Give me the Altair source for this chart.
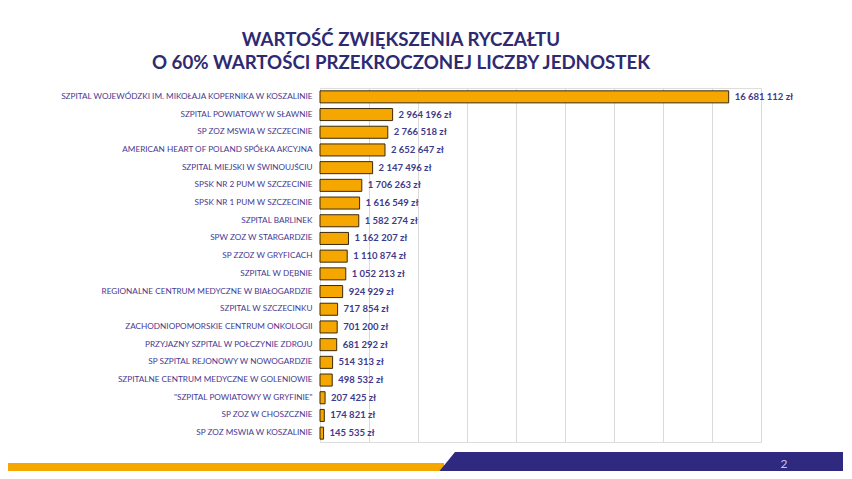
import altair as alt
import pandas as pd

categories = [
    "SZPITAL WOJEWÓDZKI IM. MIKOŁAJA KOPERNIKA W KOSZALINIE",
    "SZPITAL POWIATOWY W SŁAWNIE",
    "SP ZOZ MSWIA  W SZCZECINIE",
    "AMERICAN HEART OF POLAND SPÓŁKA AKCYJNA",
    "SZPITAL MIEJSKI W ŚWINOUJŚCIU",
    "SPSK NR 2 PUM W SZCZECINIE",
    "SPSK NR 1 PUM W SZCZECINIE",
    "SZPITAL BARLINEK",
    "SPW ZOZ W STARGARDZIE",
    "SP ZZOZ W GRYFICACH",
    "SZPITAL W DĘBNIE",
    "REGIONALNE CENTRUM MEDYCZNE W BIAŁOGARDZIE",
    "SZPITAL W SZCZECINKU",
    "ZACHODNIOPOMORSKIE CENTRUM ONKOLOGII",
    "PRZYJAZNY SZPITAL W POŁCZYNIE ZDROJU",
    "SP SZPITAL REJONOWY W NOWOGARDZIE",
    "SZPITALNE CENTRUM MEDYCZNE W GOLENIOWIE",
    "\"SZPITAL POWIATOWY W GRYFINIE\"",
    "SP ZOZ W CHOSZCZNIE",
    "SP ZOZ MSWIA W KOSZALINIE",
]
values = [
    16681112, 2964196, 2766518, 2652647, 2147496, 1706263, 1616549, 1582274,
    1162207, 1110874, 1052213, 924929, 717854, 701200, 681292, 514313,
    498532, 207425, 174821, 145535,
]
grid_values = [2000000, 4000000, 6000000, 8000000, 10000000, 12000000, 14000000, 16000000, 18000000]
title_lines = ["WARTOŚĆ ZWIĘKSZENIA RYCZAŁTU", "O 60% WARTOŚCI PRZEKROCZONEJ LICZBY JEDNOSTEK"]

df = pd.DataFrame({
    "name": categories,
    "value": values,
    "label": [f"{v:,}".replace(",", " ") + " zł" for v in values],
})

ORANGE = "#F5A700"
NAVY = "#2F2A80"
TEXT = "#3E3A8C"
FONT = "Lato"

W, H = 441, 354

x_enc = alt.X(
    "value:Q",
    scale=alt.Scale(domain=[0, 18000000], nice=False),
    axis=alt.Axis(values=grid_values, labels=False, ticks=False, domain=False,
                  title=None, grid=True, gridColor="#DADADA", gridWidth=1),
)
y_enc = alt.Y(
    "name:N", sort=None,
    scale=alt.Scale(paddingInner=0.32, paddingOuter=0.16),
    axis=alt.Axis(title=None, ticks=False, domain=False, labelFont=FONT,
                  labelFontSize=8.2, labelColor="#47398F", labelPadding=8,
                  labelLimit=400),
)

base = alt.Chart(df)
bars = base.mark_bar(color=ORANGE, stroke="#3A2A0A", strokeWidth=1).encode(x=x_enc, y=y_enc)
labels = base.mark_text(align="left", baseline="middle", dx=6, font=FONT,
                        fontSize=9.5, fontWeight="bold", color=TEXT).encode(
    x="value:Q", y=alt.Y("name:N", sort=None), text="label:N")

title1 = alt.Chart(pd.DataFrame({"t": [title_lines[0]]})).mark_text(
    font=FONT, fontSize=18.7, fontWeight="bold", color="#2E2A72", align="center",
    baseline="middle").encode(text="t:N", x=alt.value(81), y=alt.value(-48))
title2 = alt.Chart(pd.DataFrame({"t": [title_lines[1]]})).mark_text(
    font=FONT, fontSize=18.7, fontWeight="bold", color="#2E2A72", align="center",
    baseline="middle").encode(text="t:N", x=alt.value(81), y=alt.value(-25))

orange_band = alt.Chart(pd.DataFrame({"k": [0]})).mark_rect(color=ORANGE).encode(
    x=alt.value(-312), x2=alt.value(124), y=alt.value(375), y2=alt.value(383))

navy_shape = alt.Chart(pd.DataFrame({"py": [364, 383], "px": [135, 119.5], "px2": [524, 524]})).mark_area(
    color=NAVY, orient="horizontal").encode(
    y=alt.Y("py:Q", scale=None),
    x=alt.X("px:Q", scale=None),
    x2="px2:Q",
)
page_num = alt.Chart(pd.DataFrame({"t": ["2"]})).mark_text(
    font=FONT, fontSize=12, color="#C9C6EA", align="center", baseline="middle").encode(
    text="t:N", x=alt.value(464), y=alt.value(376))

chart = alt.layer(bars, labels, title1, title2, orange_band, navy_shape, page_num).properties(
    width=W, height=H,
    autosize=alt.AutoSizeParams(type="none"),
    padding={"left": 312, "top": 80, "right": 82, "bottom": 29},
).configure_view(stroke=None).configure(background="white")

chart.save("out.html", embed_options={"renderer": "svg", "actions": False})
